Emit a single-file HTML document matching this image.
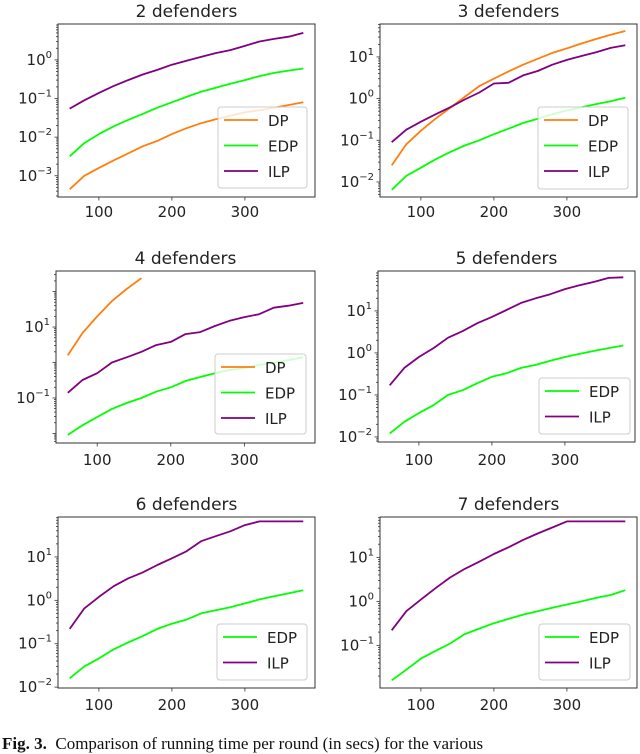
<!DOCTYPE html>
<html><head><meta charset="utf-8"><style>
html,body{margin:0;padding:0;background:#fff;width:640px;height:745px;overflow:hidden}
svg{display:block}
</style></head><body>
<svg id="fig" width="640" height="745" viewBox="0 0 640 745" xmlns="http://www.w3.org/2000/svg" font-family="DejaVu Sans, Liberation Sans, sans-serif"></svg>
<script>
const xs = [60,80,100,120,140,160,180,200,220,240,260,280,300,320,340,360,380];
const xTicks = [100,200,300];
// 2 defenders
const p2DP  = [0.00045,0.001,0.0016,0.0025,0.0038,0.0058,0.008,0.012,0.017,0.023,0.029,0.036,0.044,0.05,0.058,0.068,0.08];
const p2EDP = [0.0032,0.007,0.012,0.019,0.028,0.04,0.058,0.08,0.11,0.15,0.19,0.24,0.3,0.38,0.46,0.53,0.6];
const p2ILP = [0.055,0.09,0.14,0.21,0.3,0.42,0.55,0.75,0.95,1.2,1.5,1.8,2.3,3.0,3.5,4.0,5.0];
// 3 defenders
const p3DP  = [0.025,0.08,0.17,0.33,0.6,1.1,2.0,3.0,4.5,6.5,9,12.5,16,21,27,34,42];
const p3EDP = [0.0065,0.014,0.022,0.035,0.052,0.075,0.1,0.14,0.19,0.26,0.33,0.42,0.52,0.62,0.74,0.86,1.05];
const p3ILP = [0.09,0.18,0.28,0.42,0.62,0.95,1.4,2.3,2.4,3.6,4.6,6.5,8.5,10.5,13,16.5,19];
// 4 defenders
const p4DP  = [1.6,6.8,20,54,118,240];
const p4EDP = [0.0091,0.017,0.029,0.049,0.072,0.1,0.15,0.2,0.3,0.39,0.5,0.62,0.7,0.85,1.0,1.17,1.4];
const p4ILP = [0.14,0.32,0.5,1.0,1.4,2.0,3.1,3.8,6.3,7.2,10.7,15,19,23,35,40,48];
// 5 defenders
const p5EDP = [0.012,0.023,0.037,0.057,0.1,0.13,0.19,0.27,0.33,0.44,0.52,0.65,0.8,0.95,1.12,1.3,1.5];
const p5ILP = [0.17,0.44,0.8,1.3,2.3,3.3,5.1,7.2,10.5,15.5,20,25,33,41,49,61,63];
// 6 defenders
const p6EDP = [0.016,0.03,0.046,0.074,0.107,0.15,0.22,0.29,0.36,0.5,0.59,0.69,0.85,1.05,1.24,1.45,1.7];
const p6ILP = [0.22,0.65,1.2,2.1,3.2,4.4,6.5,9.3,13.5,23,30,39,54,66,66,66,66];
// 7 defenders
const p7EDP = [0.016,0.028,0.05,0.075,0.11,0.18,0.24,0.32,0.4,0.5,0.6,0.72,0.85,1.0,1.2,1.4,1.8];
const p7ILP = [0.22,0.6,1.1,2.0,3.5,5.5,8,12,17,25,35,48,66,66,66,66,66];

const C = {DP:'#ff7f0e', EDP:'#00ff00', ILP:'#800080'};
const NS = 'http://www.w3.org/2000/svg';
const svg = document.getElementById('fig');
function mk(tag, attrs, parent){const e=document.createElementNS(NS,tag);for(const k in attrs)e.setAttribute(k,attrs[k]);(parent||svg).appendChild(e);return e;}

const panels = [
 {title:'2 defenders', L:58,R:315,T:24,B:197, ymin:-3.55,ymax:0.93, yt:[-3,-2,-1,0], series:[['DP',p2DP],['EDP',p2EDP],['ILP',p2ILP]], leg:[218,107,89,81], xlab:212},
 {title:'3 defenders', L:380,R:637,T:24,B:197, ymin:-2.36,ymax:1.79, yt:[-2,-1,0,1], series:[['DP',p3DP],['EDP',p3EDP],['ILP',p3ILP]], leg:[538,107,90,82], xlab:212},
 {title:'4 defenders', L:56,R:315,T:271,B:443, ymin:-2.27,ymax:2.58, yt:[-1,1], series:[['DP',p4DP],['EDP',p4EDP],['ILP',p4ILP]], leg:[215,354,91,80], xlab:460},
 {title:'5 defenders', L:378,R:635,T:271,B:442, ymin:-2.12,ymax:1.95, yt:[-2,-1,0,1], series:[['EDP',p5EDP],['ILP',p5ILP]], leg:[539,378,91,56], xlab:460},
 {title:'6 defenders', L:58,R:315,T:517,B:688, ymin:-2.02,ymax:1.92, yt:[-2,-1,0,1], series:[['EDP',p6EDP],['ILP',p6ILP]], leg:[217,624,90,56], xlab:705},
 {title:'7 defenders', L:380,R:637,T:517,B:688, ymin:-1.97,ymax:1.92, yt:[-1,0,1], series:[['EDP',p7EDP],['ILP',p7ILP]], leg:[539,624,91,56], xlab:705}
];

panels.forEach((p,pi)=>{
  const g = mk('g',{});
  
  
  const xS = v => p.L + (v-44)/(396-44)*(p.R-p.L);
  const yS = v => p.B - (Math.log10(v)-p.ymin)/(p.ymax-p.ymin)*(p.B-p.T);
  const yL = l => p.B - (l-p.ymin)/(p.ymax-p.ymin)*(p.B-p.T);
  const t = mk('text',{x:(p.L+p.R)/2,y:p.T-7,'text-anchor':'middle','font-size':17,fill:'#222'},g);
  t.textContent = p.title;
  
  
  const cp = mk('clipPath',{id:'cp'+pi},g);
  mk('rect',{x:p.L,y:p.T,width:p.R-p.L,height:p.B-p.T},cp);
  p.series.forEach(([name,vals])=>{
    const pts = vals.map((v,i)=>xS(xs[i]).toFixed(1)+','+yS(v).toFixed(1)).join(' ');
    const pl = mk('polyline',{points:pts,fill:'none',stroke:C[name],'stroke-width':1.8,'stroke-linejoin':'round','clip-path':'url(#cp'+pi+')'},g);
    
    
  });
  for(let d=Math.floor(p.ymin);d<=Math.ceil(p.ymax);d++){
    for(let m=1;m<10;m++){
      const l = d+Math.log10(m);
      if(l<p.ymin||l>p.ymax)continue;
      const y=yL(l);
      mk('line',{x1:p.L-(m===1?3.5:2),x2:p.L,y1:y,y2:y,stroke:'#333','stroke-width':0.8},g);
    }
  }
  p.yt.forEach(e=>{
    const y=yL(e);
    const tx = mk('text',{x:p.L-6,y:y+5,'text-anchor':'end','font-size':15,fill:'#222'},g);
    
    
    const a=mk('tspan',{},tx); a.textContent='10';
    const b=mk('tspan',{'font-size':10,dy:-7},tx); b.textContent=(e<0?'\u2212':'')+Math.abs(e);
  });
  xTicks.forEach(v=>{
    const x=xS(v);
    mk('line',{x1:x,x2:x,y1:p.B,y2:p.B+3.5,stroke:'#333','stroke-width':0.8},g);
    const tx=mk('text',{x:x,y:p.xlab+5,'text-anchor':'middle','font-size':15,fill:'#222'},g);
    tx.textContent=v;
    
    
  });
  const fr = mk('rect',{x:p.L,y:p.T,width:p.R-p.L,height:p.B-p.T,fill:'none',stroke:'#333','stroke-width':1},g);
  
  
  const [lx,ly,lw,lh]=p.leg;
  const lg = mk('g',{},g);
  
  
  mk('rect',{x:lx,y:ly,width:lw,height:lh,rx:3,fill:'#fff','fill-opacity':0.8,stroke:'#ccc','stroke-width':1},lg);
  p.series.forEach(([name],i)=>{
    const y = ly+13+i*25.5;
    mk('line',{x1:lx+6,x2:lx+40,y1:y,y2:y,stroke:C[name],'stroke-width':1.8},lg);
    const tx=mk('text',{x:lx+50,y:y+6,'font-size':15,fill:'#222'},lg);
    tx.textContent=name;
    
    
  });
});
</script>
<div style="position:absolute;left:2px;top:734px;font-family:'Liberation Serif',serif;font-size:17px;white-space:nowrap;color:#111"><b>Fig. 3.</b>&nbsp; Comparison of running time per round (in secs) for the various</div>
</body></html>
